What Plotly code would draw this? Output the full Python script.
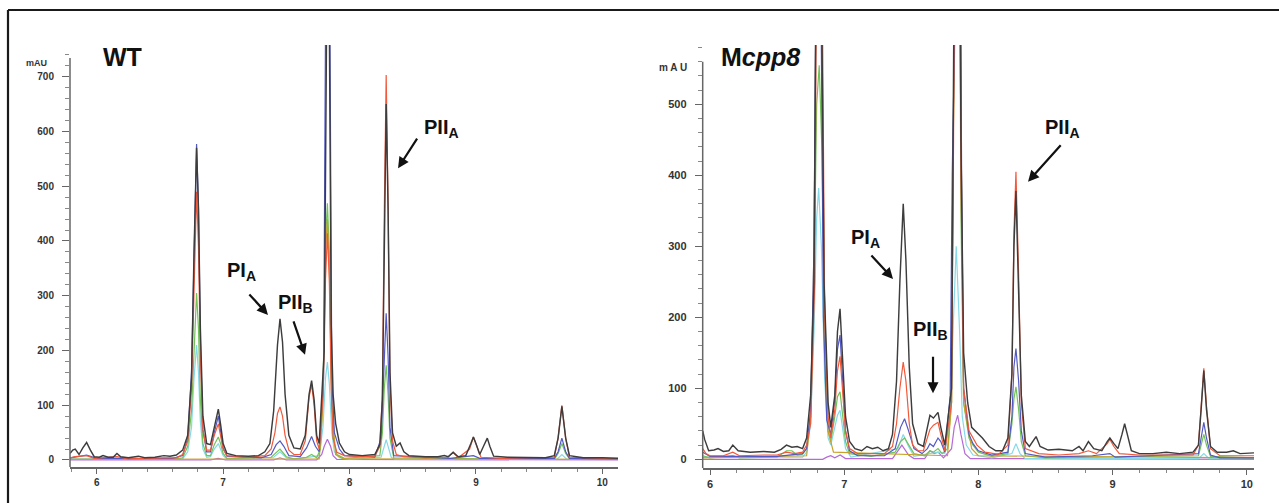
import plotly.graph_objects as go

# ---------------- data (retention time in min, absorbance in mAU) ----------------
WT_BLACK = [(5.79,12),(5.81,18),(5.83,20),(5.86,10),(5.89,22),(5.92,32),(5.95,18),(5.98,6),(6.02,5),(6.05,8),(6.09,5),(6.13,5),(6.16,12),(6.19,6),(6.25,4),(6.33,7),(6.38,4),(6.46,5),(6.53,8),(6.58,7),(6.63,9),(6.68,18),(6.72,45),(6.75,150),(6.77,380),(6.79,570),(6.805,460),(6.82,240),(6.84,80),(6.87,30),(6.90,28),(6.93,60),(6.962,93),(6.98,65),(7.00,30),(7.03,12),(7.10,8),(7.20,7),(7.28,8),(7.33,15),(7.37,30),(7.40,90),(7.43,210),(7.45,258),(7.47,215),(7.49,120),(7.52,45),(7.56,22),(7.61,20),(7.65,45),(7.68,120),(7.70,145),(7.72,110),(7.74,45),(7.76,30),(7.80,200),(7.812,600),(7.825,1000),(7.835,1000),(7.845,600),(7.855,250),(7.87,120),(7.89,67),(7.92,31),(7.96,15),(8.00,10),(8.10,8),(8.20,10),(8.24,28),(8.26,110),(8.275,420),(8.29,650),(8.305,460),(8.32,160),(8.34,50),(8.37,25),(8.40,31),(8.43,15),(8.47,8),(8.60,6),(8.70,6),(8.75,8),(8.78,6),(8.82,14),(8.86,6),(8.92,8),(8.96,30),(8.98,42),(9.00,30),(9.03,10),(9.06,25),(9.09,40),(9.11,25),(9.14,7),(9.25,5),(9.40,5),(9.55,4),(9.62,8),(9.65,40),(9.68,98),(9.71,40),(9.74,8),(9.85,4),(10.0,4),(10.124,3)]
WT_RED = [(5.79,4),(5.83,6),(5.92,8),(5.98,3),(6.16,6),(6.25,2),(6.53,4),(6.63,4),(6.68,10),(6.72,35),(6.75,130),(6.77,330),(6.79,490),(6.805,390),(6.82,190),(6.84,55),(6.87,18),(6.90,18),(6.93,45),(6.962,66),(6.98,45),(7.00,20),(7.03,8),(7.20,5),(7.33,8),(7.38,20),(7.41,50),(7.43,85),(7.45,97),(7.47,80),(7.49,45),(7.52,18),(7.56,10),(7.61,10),(7.65,35),(7.68,115),(7.70,138),(7.72,100),(7.74,35),(7.76,20),(7.79,120),(7.81,330),(7.825,414),(7.84,330),(7.855,130),(7.87,40),(7.90,14),(7.96,8),(8.10,6),(8.20,7),(8.24,25),(8.26,120),(8.275,450),(8.29,703),(8.305,470),(8.32,140),(8.34,35),(8.37,10),(8.43,6),(8.60,4),(8.78,5),(8.82,14),(8.86,4),(8.95,20),(8.98,42),(9.01,22),(9.04,5),(9.20,3),(9.62,5),(9.65,40),(9.68,100),(9.71,40),(9.74,5),(10.124,2)]
WT_BLUE = [(5.79,4),(5.92,9),(6.0,3),(6.60,3),(6.68,8),(6.72,40),(6.75,160),(6.77,400),(6.79,577),(6.805,460),(6.82,220),(6.84,55),(6.87,15),(6.90,15),(6.93,50),(6.962,80),(6.98,55),(7.00,22),(7.03,7),(7.30,4),(7.38,10),(7.42,28),(7.45,35),(7.48,25),(7.52,8),(7.61,6),(7.66,22),(7.70,43),(7.73,25),(7.76,15),(7.795,150),(7.805,500),(7.815,1000),(7.84,1000),(7.85,500),(7.86,150),(7.88,50),(7.92,20),(7.96,8),(8.20,5),(8.25,40),(8.275,200),(8.29,268),(8.305,190),(8.32,60),(8.35,8),(8.80,3),(8.98,8),(9.03,3),(9.62,3),(9.65,15),(9.68,40),(9.71,15),(9.74,3),(10.124,2)]
WT_GREEN = [(5.79,1),(6.60,1),(6.68,4),(6.72,25),(6.75,90),(6.77,210),(6.79,305),(6.805,240),(6.82,110),(6.84,30),(6.87,8),(6.90,8),(6.93,28),(6.962,42),(6.98,30),(7.00,12),(7.03,3),(7.38,5),(7.45,20),(7.50,6),(7.56,2),(7.66,5),(7.70,10),(7.74,4),(7.77,20),(7.79,120),(7.81,400),(7.825,469),(7.84,380),(7.855,160),(7.87,40),(7.90,10),(7.96,3),(8.24,8),(8.26,50),(8.275,130),(8.29,173),(8.305,120),(8.32,40),(8.35,4),(9.62,1),(9.65,12),(9.68,30),(9.71,12),(9.74,2),(10.124,1)]
WT_CYAN = [(5.79,2),(6.68,2),(6.72,15),(6.75,60),(6.77,150),(6.79,210),(6.805,160),(6.82,70),(6.84,20),(6.87,5),(6.90,6),(6.93,20),(6.962,30),(6.98,20),(7.00,8),(7.03,2),(7.40,5),(7.45,15),(7.50,4),(7.56,1),(7.70,5),(7.76,8),(7.79,60),(7.81,150),(7.825,179),(7.84,140),(7.86,50),(7.88,15),(7.92,4),(8.00,1),(8.25,5),(8.275,25),(8.29,37),(8.305,25),(8.33,5),(8.36,1),(9.64,1),(9.68,10),(9.72,1),(10.124,1)]
WT_PURPLE = [(5.79,0),(6.90,0),(6.96,3),(7.02,0),(7.40,0),(7.45,4),(7.50,0),(7.74,0),(7.78,10),(7.80,25),(7.825,38),(7.85,25),(7.87,8),(7.90,1),(10.124,0)]
WT_OLIVE = [(5.79,1),(7.76,2),(7.79,100),(7.81,380),(7.825,440),(7.84,350),(7.86,100),(7.89,10),(7.95,2),(10.124,1)]

MU_BLACK = [(5.946,40),(5.96,28),(5.99,12),(6.03,13),(6.06,15),(6.10,11),(6.14,12),(6.17,20),(6.21,12),(6.30,10),(6.40,11),(6.48,10),(6.53,14),(6.57,20),(6.61,17),(6.65,18),(6.69,15),(6.72,30),(6.75,90),(6.775,250),(6.795,800),(6.814,1100),(6.83,700),(6.85,250),(6.88,80),(6.90,45),(6.93,90),(6.95,180),(6.969,212),(6.985,150),(7.01,60),(7.04,25),(7.08,15),(7.13,12),(7.17,18),(7.21,15),(7.25,17),(7.29,12),(7.33,15),(7.36,35),(7.39,110),(7.415,250),(7.44,360),(7.46,280),(7.485,130),(7.51,50),(7.55,22),(7.59,18),(7.62,45),(7.639,62),(7.665,58),(7.699,66),(7.72,45),(7.75,20),(7.80,100),(7.815,500),(7.83,1000),(7.855,1000),(7.87,450),(7.89,150),(7.92,80),(7.95,45),(7.99,38),(8.03,30),(8.08,18),(8.13,12),(8.18,12),(8.22,30),(8.25,120),(8.265,300),(8.28,378),(8.30,250),(8.32,90),(8.35,25),(8.38,18),(8.43,32),(8.46,18),(8.52,13),(8.60,14),(8.70,12),(8.75,18),(8.78,12),(8.82,25),(8.86,15),(8.92,12),(8.96,25),(8.98,30),(9.01,22),(9.04,15),(9.07,35),(9.09,50),(9.11,35),(9.14,12),(9.20,8),(9.30,8),(9.40,10),(9.50,8),(9.60,10),(9.64,20),(9.66,70),(9.68,125),(9.70,70),(9.73,18),(9.78,10),(9.85,10),(9.90,12),(9.95,8),(10.054,9)]
MU_RED = [(5.946,15),(5.97,8),(6.00,5),(6.10,5),(6.17,10),(6.22,5),(6.40,6),(6.50,6),(6.57,10),(6.63,8),(6.69,10),(6.72,20),(6.75,50),(6.78,250),(6.80,900),(6.82,1200),(6.835,700),(6.855,200),(6.88,60),(6.90,30),(6.93,70),(6.95,125),(6.969,145),(6.985,100),(7.01,40),(7.04,15),(7.10,8),(7.20,8),(7.30,8),(7.36,18),(7.39,50),(7.415,100),(7.44,137),(7.46,110),(7.485,50),(7.51,20),(7.55,12),(7.59,12),(7.62,30),(7.639,42),(7.665,48),(7.699,52),(7.72,35),(7.75,12),(7.80,80),(7.815,450),(7.83,1000),(7.855,1000),(7.87,400),(7.89,100),(7.93,40),(7.96,30),(7.99,20),(8.05,10),(8.15,7),(8.22,20),(8.25,120),(8.265,320),(8.28,405),(8.30,260),(8.32,80),(8.35,15),(8.45,8),(8.60,6),(8.75,8),(8.82,12),(8.88,8),(8.96,22),(8.98,28),(9.01,18),(9.05,8),(9.20,6),(9.40,6),(9.60,6),(9.64,20),(9.66,75),(9.68,128),(9.70,75),(9.73,15),(9.80,5),(10.054,5)]
MU_BLUE = [(5.946,10),(6.00,4),(6.50,4),(6.69,8),(6.72,15),(6.75,70),(6.775,300),(6.79,700),(6.81,1200),(6.825,700),(6.845,200),(6.87,55),(6.90,35),(6.93,85),(6.95,155),(6.969,175),(6.985,120),(7.01,40),(7.04,12),(7.10,5),(7.30,5),(7.38,15),(7.42,45),(7.45,57),(7.48,40),(7.52,15),(7.58,8),(7.62,15),(7.639,22),(7.665,18),(7.699,30),(7.72,25),(7.75,10),(7.79,90),(7.805,400),(7.82,1000),(7.86,1000),(7.875,400),(7.89,100),(7.93,35),(7.96,22),(8.00,12),(8.10,6),(8.22,10),(8.25,60),(8.265,130),(8.28,156),(8.30,110),(8.32,40),(8.35,8),(8.50,3),(8.85,5),(8.98,8),(9.02,3),(9.64,8),(9.66,30),(9.68,52),(9.70,30),(9.73,6),(9.80,2),(10.054,2)]
MU_GREEN = [(5.946,5),(6.00,2),(6.17,5),(6.22,2),(6.50,3),(6.57,12),(6.61,12),(6.65,6),(6.69,7),(6.72,15),(6.75,60),(6.775,250),(6.795,500),(6.814,555),(6.835,430),(6.855,150),(6.88,40),(6.90,25),(6.93,60),(6.95,88),(6.969,95),(6.985,70),(7.01,25),(7.04,8),(7.20,4),(7.38,10),(7.42,25),(7.45,30),(7.48,20),(7.52,8),(7.60,5),(7.639,12),(7.665,10),(7.699,15),(7.73,8),(7.77,15),(7.80,80),(7.815,450),(7.83,900),(7.855,900),(7.87,350),(7.89,80),(7.93,30),(7.96,20),(8.00,10),(8.10,4),(8.22,8),(8.25,50),(8.265,85),(8.28,102),(8.30,70),(8.32,25),(8.35,5),(8.50,2),(9.64,5),(9.66,20),(9.68,35),(9.70,20),(9.73,4),(10.054,2)]
MU_CYAN = [(5.946,3),(6.69,3),(6.72,10),(6.75,50),(6.775,180),(6.795,340),(6.81,382),(6.83,300),(6.855,110),(6.88,30),(6.90,20),(6.93,45),(6.95,62),(6.969,69),(6.985,50),(7.01,15),(7.05,3),(7.40,15),(7.44,35),(7.48,18),(7.52,4),(7.639,8),(7.699,10),(7.75,8),(7.79,60),(7.815,200),(7.835,300),(7.86,180),(7.88,60),(7.91,20),(7.96,6),(8.10,2),(8.25,8),(8.28,22),(8.31,8),(8.35,1),(9.64,1),(9.68,8),(9.72,1),(10.054,1)]
MU_PURPLE = [(5.946,0),(6.84,0),(6.87,3),(6.90,5),(6.93,2),(6.97,6),(7.01,1),(7.36,1),(7.43,20),(7.48,6),(7.52,1),(7.60,1),(7.639,12),(7.67,8),(7.70,10),(7.74,2),(7.80,15),(7.82,45),(7.846,62),(7.87,35),(7.90,8),(7.94,1),(10.054,0)]
MU_OLIVE = [(5.946,2),(6.72,5),(6.75,60),(6.775,300),(6.795,800),(6.814,1100),(6.83,700),(6.85,250),(6.88,40),(6.92,10),(7.77,5),(7.80,80),(7.812,450),(7.828,1000),(7.858,1000),(7.872,450),(7.89,80),(7.95,15),(8.00,5),(10.054,2)]

X_TICKS = [6, 7, 8, 9, 10]
WT_RANGE_X = [5.7886, 10.124]
WT_RANGE_Y = [-12.8, 757.9]
MU_RANGE_X = [5.9456, 10.054]
MU_RANGE_Y = [-12.7, 583.5]

# ---------------- styling ----------------
W, H = 1279, 503
COLORS = {
    "purple": "#b56ad6", "cyan": "#86d9e8", "green": "#72c25a", "olive": "#c9a12a",
    "blue": "#5258c4", "red": "#f2583a", "black": "#3d3d3d",
}
ORDER = ["purple", "cyan", "green", "olive", "blue", "red", "black"]

WT = {"purple": WT_PURPLE, "cyan": WT_CYAN, "green": WT_GREEN, "olive": WT_OLIVE,
      "blue": WT_BLUE, "red": WT_RED, "black": WT_BLACK}
MU = {"purple": MU_PURPLE, "cyan": MU_CYAN, "green": MU_GREEN, "olive": MU_OLIVE,
      "blue": MU_BLUE, "red": MU_RED, "black": MU_BLACK}

fig = go.Figure()
for panel, (xa, ya) in ((WT, ("x", "y")), (MU, ("x2", "y2"))):
    for name in ORDER:
        pts = panel[name]
        fig.add_trace(go.Scatter(
            x=[p[0] for p in pts], y=[p[1] for p in pts], mode="lines",
            line=dict(color=COLORS[name], width=1.45 if name == "black" else 1.2),
            xaxis=xa, yaxis=ya, showlegend=False, hoverinfo="skip"))

def px(x):
    return x / W
def py(y):
    return 1 - y / H

tickfont = dict(family="Liberation Sans, Arial", size=10, color="#333", weight="bold")
tickfont_r = dict(family="Liberation Sans, Arial", size=11, color="#333", weight="bold")

def xaxis(domain, rng, anchor, font):
    return dict(domain=domain, range=rng, anchor=anchor, showgrid=False, zeroline=False,
                showline=True, linecolor="#666", linewidth=1.5,
                ticks="outside", ticklen=5, tickwidth=1, tickcolor="#666",
                tickvals=X_TICKS, tickfont=font, ticklabelstandoff=0,
                minor=dict(dtick=0.2, ticks="outside", ticklen=3, tickcolor="#888", tickwidth=1))

def yaxis(domain, rng, anchor, font):
    return dict(domain=domain, range=rng, anchor=anchor, showgrid=False, zeroline=False,
                showline=False, ticks="outside", ticklen=7, tickwidth=1, tickcolor="#666",
                dtick=100, tick0=0, tickfont=font, ticklabelstandoff=6,
                minor=dict(dtick=20, ticks="outside", ticklen=4, tickcolor="#888", tickwidth=1))

fig.update_layout(
    width=W, height=H, margin=dict(l=0, r=0, t=0, b=0),
    paper_bgcolor="white", plot_bgcolor="white",
    xaxis=xaxis([px(70), px(618)], WT_RANGE_X, "y", tickfont),
    yaxis=yaxis([py(467), py(45)], WT_RANGE_Y, "x", tickfont),
    xaxis2=xaxis([px(702.7), px(1254)], MU_RANGE_X, "y2", tickfont_r),
    yaxis2=yaxis([py(468.3), py(45)], MU_RANGE_Y, "x2", tickfont_r),
)

# outer frame (top & left visible) and y-axis lines
shapes = [
    dict(type="line", xref="paper", yref="paper", x0=px(8), x1=1.02, y0=py(10), y1=py(10),
         line=dict(color="#1a1a1a", width=2.2)),
    dict(type="line", xref="paper", yref="paper", x0=px(8), x1=px(8), y0=py(10), y1=-0.05,
         line=dict(color="#1a1a1a", width=2.2)),
    dict(type="line", xref="x domain", yref="y", x0=0, x1=0, y0=WT_RANGE_Y[0], y1=734,
         line=dict(color="#666", width=1.5)),
    dict(type="line", xref="x2 domain", yref="y2", x0=0, x1=0, y0=MU_RANGE_Y[0], y1=560,
         line=dict(color="#666", width=1.5)),
]
fig.update_layout(shapes=shapes)

LAB = dict(family="Liberation Sans, Arial", color="#111")
ann = []
# panel titles
ann.append(dict(text="<b>WT</b>", xref="paper", yref="paper", x=px(101), y=py(57),
                xanchor="left", yanchor="middle", showarrow=False, font=dict(size=25, **LAB)))
ann.append(dict(text="<b>M<i>cpp8</i></b>", xref="paper", yref="paper", x=px(719), y=py(57),
                xanchor="left", yanchor="middle", showarrow=False, font=dict(size=25, **LAB)))
ann.append(dict(text="<b>mAU</b>", xref="paper", yref="paper", x=px(36), y=py(63),
                xanchor="center", yanchor="middle", showarrow=False, font=dict(size=9, family="Liberation Sans", color="#333")))
ann.append(dict(text="<b>m A U</b>", xref="paper", yref="paper", x=px(673), y=py(68),
                xanchor="center", yanchor="middle", showarrow=False, font=dict(size=10, family="Liberation Sans", color="#333")))

def label(text, x, y, xr, yr):
    ann.append(dict(text=text, x=x, y=y, xref=xr, yref=yr, showarrow=False,
                    xanchor="center", yanchor="middle", font=dict(size=20, **LAB)))

def arrow(x, y, ax, ay, xr, yr):
    ann.append(dict(text="", x=x, y=y, xref=xr, yref=yr, ax=ax, ay=ay, showarrow=True,
                    arrowhead=2, arrowsize=1, arrowwidth=2.2, arrowcolor="#111"))

# WT labels
label("<b>PI<sub>A</sub></b>", 7.142, 345, "x", "y")
arrow(7.355, 265, -20, -22, "x", "y")
label("<b>PII<sub>B</sub></b>", 7.573, 285, "x", "y")
arrow(7.648, 192, -12, -35, "x", "y")
label("<b>PII<sub>A</sub></b>", 8.724, 605, "x", "y")
arrow(8.384, 533, 20, -31, "x", "y")
# Mcpp8 labels
label("<b>PI<sub>A</sub></b>", 7.159, 311, "x2", "y2")
arrow(7.364, 254, -23, -25, "x2", "y2")
label("<b>PII<sub>B</sub></b>", 7.643, 181, "x2", "y2")
arrow(7.662, 93, 0, -38, "x2", "y2")
label("<b>PII<sub>A</sub></b>", 8.627, 466, "x2", "y2")
arrow(8.37, 391, 34, -38, "x2", "y2")

fig.update_layout(annotations=ann)

fig.write_html("out.html", config={"displayModeBar": False},
               post_script="document.body.style.margin='0';document.body.style.padding='0';")
